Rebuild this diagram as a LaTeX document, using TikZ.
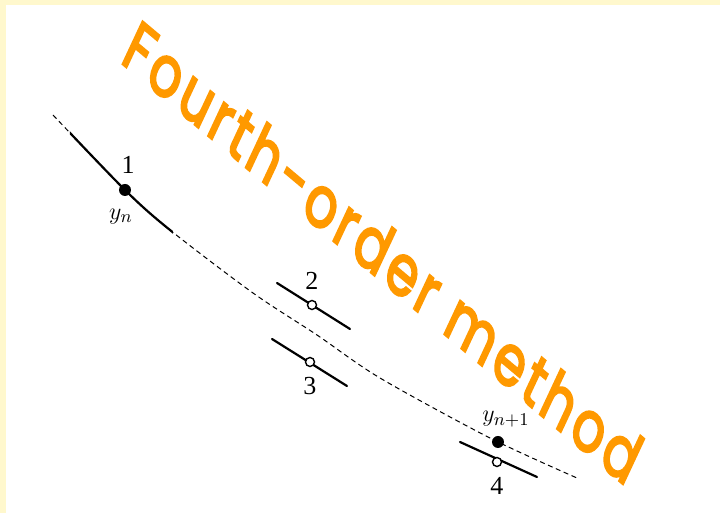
\documentclass[tikz,border=0pt]{standalone}
\usepackage{fontspec}
\setmainfont{Liberation Serif}
\newfontfamily\titlefont[FakeBold=3.5,LetterSpace=7]{Poppins}
\usetikzlibrary{positioning}
\definecolor{frameyellow}{RGB}{255,248,205}
\definecolor{titleorange}{RGB}{255,153,0}

\begin{document}
\begin{tikzpicture}[x=0.5pt,y=-0.5pt,font=\fontsize{13}{15}\selectfont]
  % canvas: 720 x 513 (px), y downwards
  \fill[frameyellow] (0,0) rectangle (720,513);
  \fill[white] (6,5) rectangle (720,513);
  \useasboundingbox (0,0) rectangle (720,513);
  \tikzset{soln/.style={dash pattern=on 2.5pt off 1.8pt,line width=0.5pt},
           tangent/.style={line width=1.1pt,line cap=round},
           fulldot/.style={circle,fill=black,inner sep=0pt,minimum size=6pt},
           opendot/.style={circle,draw=black,fill=white,line width=0.7pt,inner sep=0pt,minimum size=4.5pt},
           lbl/.style={inner sep=1pt}}
  \def\solnpath{plot[smooth] coordinates {(53,115) (125,190) (170,230) (253,293)
      (317,335) (380,378) (490,438) (577,478)}}
  % exact solution through y_n
  \draw[soln] \solnpath;
  % slope k1: solid piece along the curve
  \begin{scope}
    \clip (70,0) rectangle (173,513);
    \draw[line width=1.1pt] \solnpath;
  \end{scope}
  % tangent slopes k2..k4
  \coordinate (s2a) at (277,283); \coordinate (s2b) at (350,329);
  \coordinate (s3a) at (272,339); \coordinate (s3b) at (347,386);
  \coordinate (s4a) at (460,442); \coordinate (s4b) at (537,477);
  \draw[tangent] (s2a) -- (s2b);
  \draw[tangent] (s3a) -- (s3b);
  \draw[tangent] (s4a) -- (s4b);
  % points
  \node[fulldot] (p1) at (125,190) {};
  \node[opendot] (p2) at (312,305) {};
  \node[opendot] (p3) at (310,362) {};
  \node[opendot] (p4) at (497,462) {};
  \node[fulldot] (pn) at (498,442) {};
  % labels
  \node[lbl,above=4pt of p1,xshift=1.5pt] (l1) {1};
  \node[lbl,below=5pt of p1,xshift=-2pt] (yn) {$y_n$};
  \node[lbl,above=4pt of p2] (l2) {2};
  \node[lbl,below=4pt of p3] (l3) {3};
  \node[lbl,below=4pt of p4] (l4) {4};
  \node[lbl,above=3pt of pn,xshift=4pt] (yn1) {$y_{n+1}$};
  % title: baseline at -40 deg, letters leaning (sheared)
  \begin{scope}[shift={(119,61)},cm={0.766,-0.643,0.51,1.09,(0,0)}]
    \node[transform shape,text=titleorange,anchor=base west,inner sep=0pt,
          font=\titlefont\fontsize{28}{34}\selectfont] (title) at (0,0) {Fourth-order method};
  \end{scope}
\end{tikzpicture}
\end{document}
